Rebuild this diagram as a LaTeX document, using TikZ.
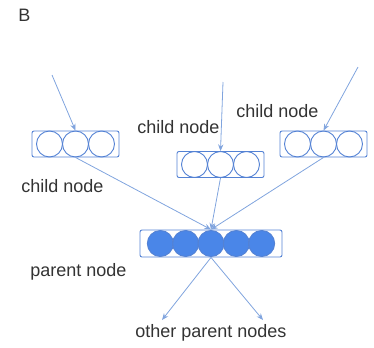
\documentclass[tikz,border=0pt]{standalone}
\usepackage{fontspec}
\setmainfont{Liberation Sans}
\usetikzlibrary{arrows.meta}
\definecolor{cellblue}{RGB}{84,130,212}
\definecolor{fillblue}{RGB}{74,134,232}
\definecolor{linkblue}{RGB}{128,164,222}
\definecolor{textgray}{RGB}{51,51,51}

\begin{document}
\begin{tikzpicture}[x=0.75pt, y=-0.75pt, font=\fontsize{13.5}{16}\selectfont,
    box/.style={draw=cellblue, rounded corners=1.5pt, line width=0.7pt, inner sep=0pt, minimum height=19.5pt},
    cell/.style={draw=cellblue, line width=0.7pt},
    full/.style={cell, fill=fillblue},
    link/.style={draw=linkblue, line width=0.6pt, -{Stealth[length=5pt, width=4pt]}},
    lbl/.style={anchor=base west, text=textgray, inner sep=0pt}]
        \useasboundingbox (0,0) rectangle (374,347);

        \node[lbl] (title) at (18,21) {B};

        % child boxes
        \node[box, minimum width=65.25pt] (leftc) at (75.5,144) {};
        \node[box, minimum width=65.25pt] (midc) at (220.5,164.5) {};
        \node[box, minimum width=65.25pt] (rightc) at (323.5,144) {};
        \foreach \b in {leftc, midc, rightc}
            \foreach \i in {-1,0,1}
                \draw[cell] ([xshift=\i*19.5pt]\b.center) circle [radius=9.75pt];

        % parent box
        \node[box, minimum width=106.5pt, minimum height=20.25pt] (parent) at (211,243.5) {};
        \foreach \i in {-2,...,2}
            \draw[full] ([xshift=\i*19pt]parent.center) circle [radius=9.75pt];

        \node[lbl] (leftlbl) at (21,192) {child node};
        \node[lbl] (midlbl) at (137,133) {child node};
        \node[lbl] (rightlbl) at (236,117) {child node};
        \node[lbl] (parentlbl) at (30,276) {parent node};
        \node[lbl] (otherlbl) at (135,337) {other parent nodes};

        \coordinate (leftin) at (52,75);
        \coordinate (midin) at (223,82);
        \coordinate (rightin) at (358,67);
        \coordinate (outl) at (162,320);
        \coordinate (outr) at (263,320);

        \draw[link] (leftin) -- (leftc.north);
        \draw[link] (midin) -- (midc.north);
        \draw[link] (rightin) -- (rightc.north);
        \draw[link] (leftc.south) -- (parent.north);
        \draw[link] (midc.south) -- (parent.north);
        \draw[link] (rightc.south) -- (parent.north);
        \draw[link] (parent.south) -- (outl);
        \draw[link] (parent.south) -- (outr);
    \end{tikzpicture}
\end{document}
